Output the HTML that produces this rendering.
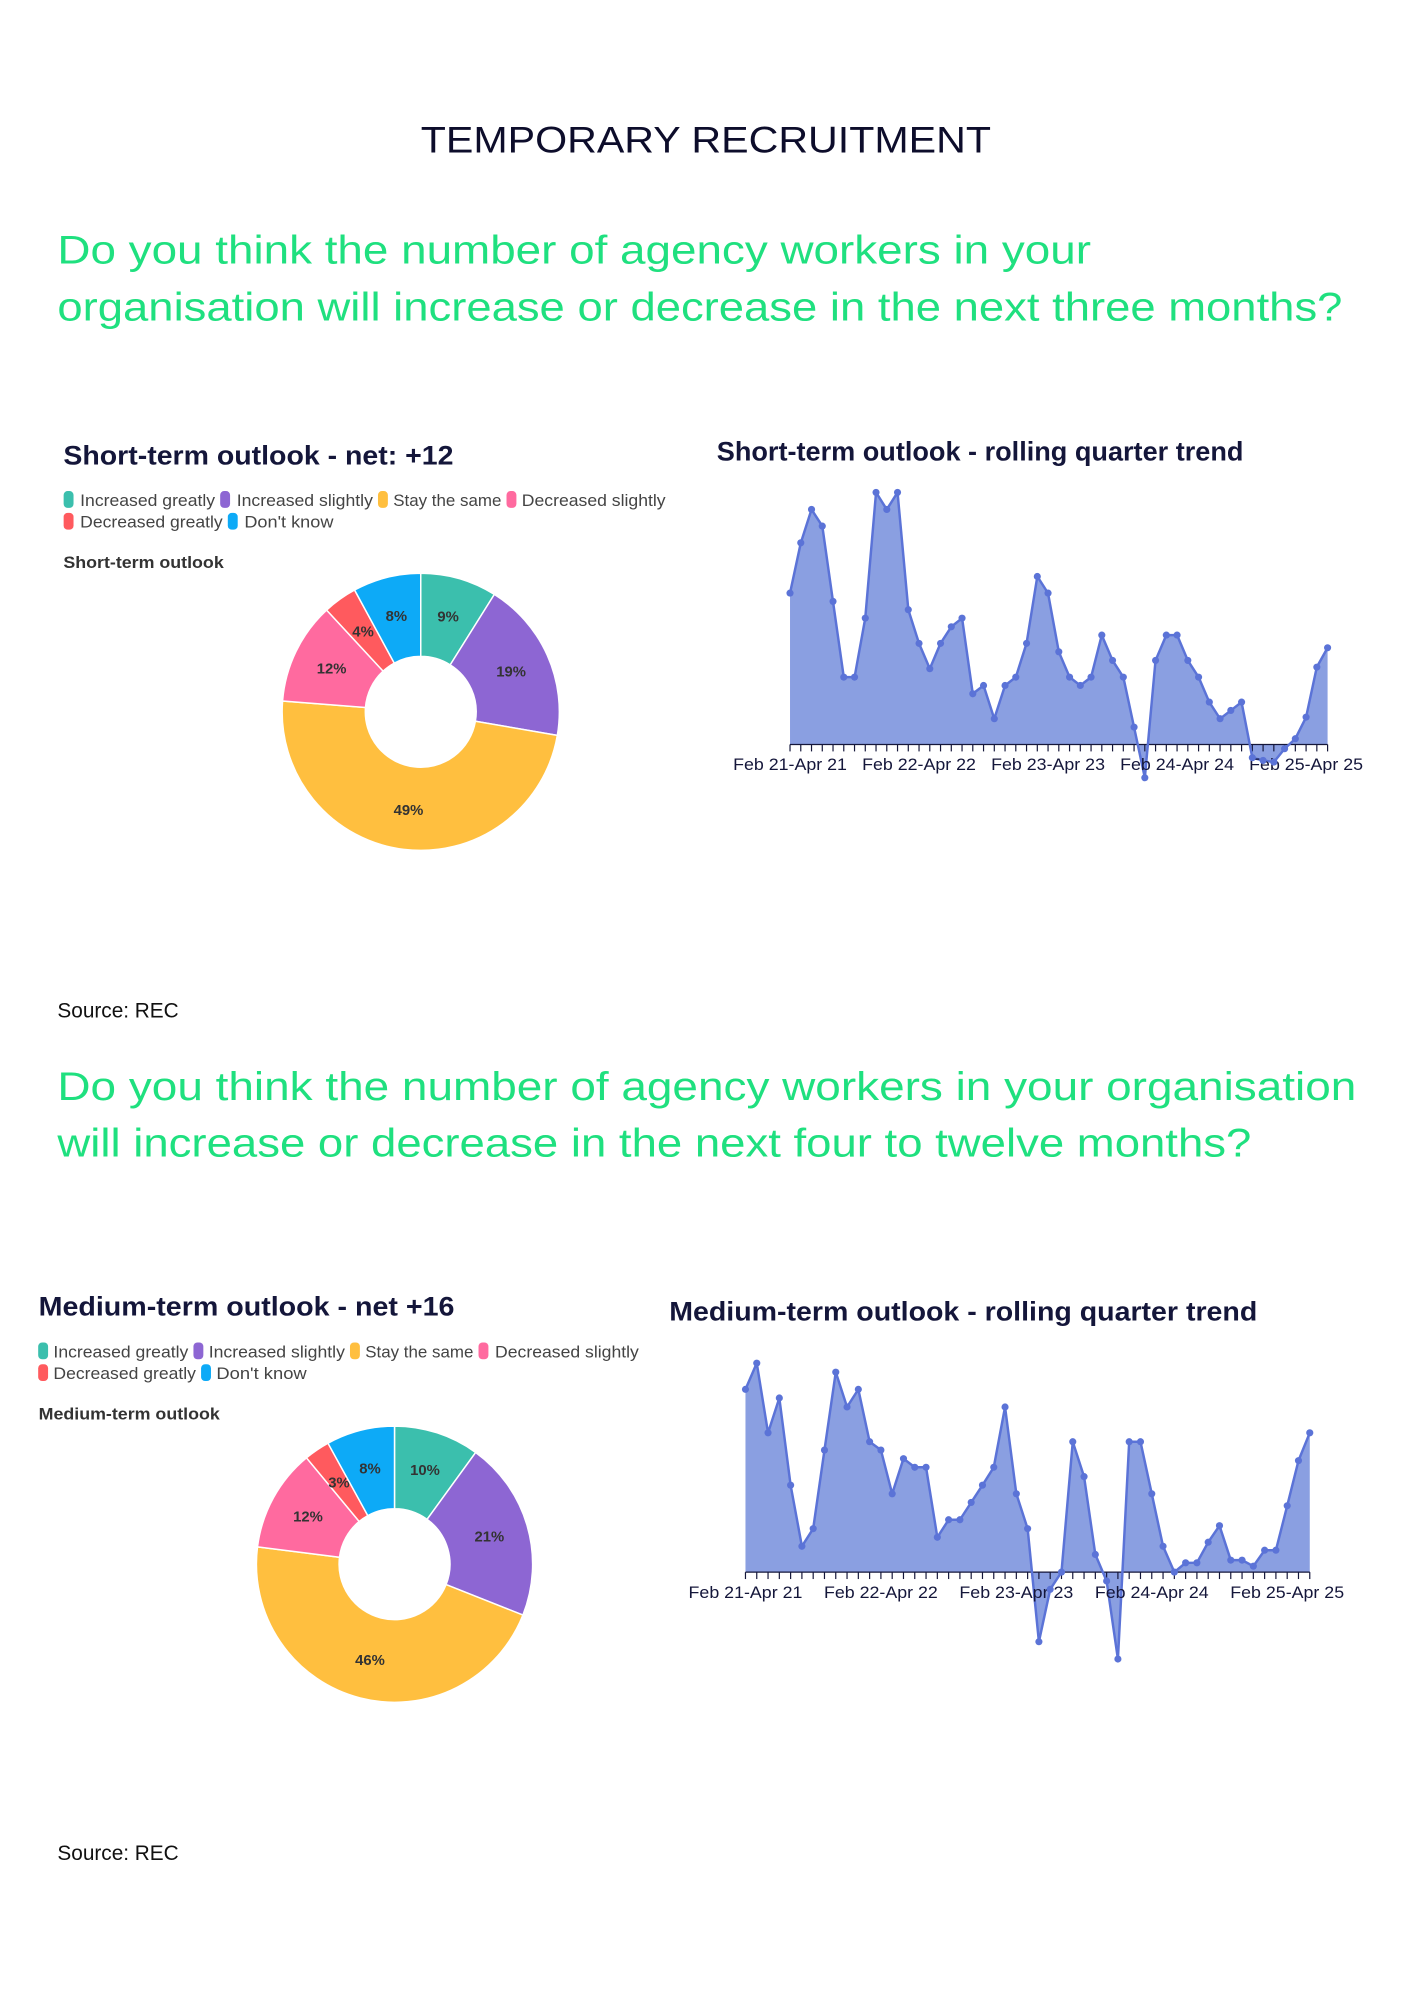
<!DOCTYPE html>
<html><head><meta charset="utf-8">
<style>
html,body{margin:0;padding:0;background:#fff;}
svg{display:block;}
.q{font-family:"Liberation Sans",sans-serif;fill:#1fe07f;font-size:40px;}
.h{font-family:"Liberation Sans",sans-serif;font-weight:bold;fill:#14163a;font-size:27px;}
.lg{font-family:"Liberation Sans",sans-serif;fill:#444;font-size:17px;}
.st{font-family:"Liberation Sans",sans-serif;font-weight:bold;fill:#333;font-size:17px;}
.pl{font-family:"Liberation Sans",sans-serif;font-weight:bold;fill:#333;font-size:15px;}
.ax{font-family:"Liberation Sans",sans-serif;fill:#14163a;font-size:17px;}
.src{font-family:"Liberation Sans",sans-serif;fill:#111;font-size:21px;}
</style></head><body>
<svg id="s" xmlns="http://www.w3.org/2000/svg" width="1414" height="2000" viewBox="0 0 1414 2000">
<rect width="1414" height="2000" fill="#fff"/>
<g transform="scale(0.99)">
<text x="713" y="154" text-anchor="middle" font-family="Liberation Sans,sans-serif" font-size="37" fill="#0d0d2b" textLength="576" lengthAdjust="spacingAndGlyphs">TEMPORARY RECRUITMENT</text>
<text class="q" x="58" y="266" textLength="1044" lengthAdjust="spacingAndGlyphs">Do you think the number of agency workers in your</text>
<text class="q" x="58" y="324" textLength="1298" lengthAdjust="spacingAndGlyphs">organisation will increase or decrease in the next three months?</text>

<text class="h" x="64" y="469" textLength="394" lengthAdjust="spacingAndGlyphs">Short-term outlook - net: +12</text>
<text class="h" x="724" y="465" textLength="532" lengthAdjust="spacingAndGlyphs">Short-term outlook - rolling quarter trend</text>
<g id="leg1"></g>
<text class="st" x="64" y="574" textLength="162" lengthAdjust="spacingAndGlyphs">Short-term outlook</text>
<g id="pie1"></g>
<g id="area1"></g>
<text class="src" x="58" y="1028">Source: REC</text>

<text class="q" x="58" y="1111" textLength="1312" lengthAdjust="spacingAndGlyphs">Do you think the number of agency workers in your organisation</text>
<text class="q" x="58" y="1168" textLength="1206" lengthAdjust="spacingAndGlyphs">will increase or decrease in the next four to twelve months?</text>

<text class="h" x="39" y="1329" textLength="420" lengthAdjust="spacingAndGlyphs">Medium-term outlook - net +16</text>
<text class="h" x="676" y="1334" textLength="594" lengthAdjust="spacingAndGlyphs">Medium-term outlook - rolling quarter trend</text>
<g id="leg2"></g>
<text class="st" x="39" y="1434" textLength="183" lengthAdjust="spacingAndGlyphs">Medium-term outlook</text>
<g id="pie2"></g>
<g id="area2"></g>
<text class="src" x="58" y="1879">Source: REC</text>
</g>
</svg>
<script>
var NS="http://www.w3.org/2000/svg";
function el(p,t,a,txt){var e=document.createElementNS(NS,t);for(var k in a)e.setAttribute(k,a[k]);if(txt!=null)e.textContent=txt;p.appendChild(e);return e;}
var C=["#3bbfad","#8d66d3","#ffbf3f","#ff6a9f","#ff5a5e","#0daaf7"];
var N=["Increased greatly","Increased slightly","Stay the same","Decreased slightly","Decreased greatly","Don't know"];
function legend(id,s,rows){var g=document.getElementById(id);
 rows.forEach(function(r){el(g,"rect",{x:r[0]*s,y:r[3]-9,width:10,height:17,rx:4,fill:C[r[4]]});
 el(g,"text",{"class":"lg",x:r[1]*s,y:r[3]+6,textLength:(r[2]-r[1])*s,lengthAdjust:"spacingAndGlyphs"},N[r[4]]);});}
var s=1.2855;
legend("leg1",s,[[50,63,169,505,0],[173,186,293,505,1],[297,309,394,505,2],[398,410,523,505,3],[50,63,175,527,4],[179,192,262,527,5]]);
legend("leg2",s,[[30,42,148,1365,0],[152,164,271,1365,1],[275,287,372,1365,2],[376,389,502,1365,3],[30,42,154,1387,4],[158,170,241,1387,5]]);
function pie(id,cx,cy,R,r,vals){var g=document.getElementById(id);var tot=vals.reduce(function(a,b){return a+b},0);var a0=0;
 vals.forEach(function(v,i){var a1=a0+v/tot*2*Math.PI;
  function P(rad,a){return [cx+rad*Math.sin(a),cy-rad*Math.cos(a)];}
  var p1=P(R,a0),p2=P(R,a1),p3=P(r,a1),p4=P(r,a0),lg=(a1-a0)>Math.PI?1:0;
  el(g,"path",{d:"M"+p1+"A"+R+","+R+" 0 "+lg+" 1 "+p2+"L"+p3+"A"+r+","+r+" 0 "+lg+" 0 "+p4+"Z",fill:C[i],stroke:"#fff","stroke-width":1.5});
  var m=(a0+a1)/2,lp=P((R+r)/2+2,m);
  el(g,"text",{"class":"pl",x:lp[0],y:lp[1]+5,"text-anchor":"middle"},v+"%");
  a0=a1;});}
pie("pie1",425,719,140,56,[9,19,49,12,4,8]);
pie("pie2",398.5,1580,139.5,56,[10,21,46,12,3,8]);
function area(id,x0,step,base,ys,ly){var g=document.getElementById(id);
 var pts=ys.map(function(y,i){return [x0+i*step,y];});
 var d="M"+x0+","+base+" "+pts.map(function(p){return "L"+p[0].toFixed(1)+","+p[1];}).join(" ")+" L"+(x0+(ys.length-1)*step).toFixed(1)+","+base+"Z";
 el(g,"path",{d:d,fill:"#8a9fe1"});
 el(g,"line",{x1:x0,y1:base,x2:x0+(ys.length-1)*step,y2:base,stroke:"#14163a","stroke-width":1.2});
 pts.forEach(function(p){el(g,"line",{x1:p[0],y1:base,x2:p[0],y2:base+7,stroke:"#14163a","stroke-width":1.2});});
 el(g,"polyline",{points:pts.map(function(p){return p[0].toFixed(1)+","+p[1];}).join(" "),fill:"none",stroke:"#5b73d7","stroke-width":2.5,"stroke-linejoin":"round"});
 var labs=["Feb 21-Apr 21","Feb 22-Apr 22","Feb 23-Apr 23","Feb 24-Apr 24","Feb 25-Apr 25"];
 labs.forEach(function(l,k){el(g,"text",{"class":"ax",x:x0+k*12*step,y:ly,"text-anchor":"middle",textLength:115,lengthAdjust:"spacingAndGlyphs"},l);});
 pts.forEach(function(p){el(g,"circle",{cx:p[0],cy:p[1],r:3.6,fill:"#5b73d7"});});}
area("area1",798,10.86,752,[599.1,548.3,514.6,531.4,607.5,684,684,624.4,497.4,514.6,497.4,615.9,649.9,675.5,649.9,633.1,624.4,700.8,692.4,726,692.4,684,649.9,582.3,599.1,658.4,684,692.4,684,641.5,667.1,684,734.5,785.6,667.1,641.5,641.5,667.1,684,709.2,726,717.6,709.2,765.4,768.1,769.8,756.3,746.2,724.4,673.9,654.3],778);
area("area2",753,11.4,1588,[1403.4,1376.9,1447.3,1412.1,1500.2,1561.9,1544.1,1464.7,1386,1421.2,1403.4,1456.3,1464.7,1508.9,1473.4,1482.1,1482.1,1552.8,1535.1,1535.1,1517.6,1500.2,1482.1,1421.2,1508.9,1544.1,1658.3,1605.4,1588,1456.3,1491.5,1570.2,1597,1675.8,1456.3,1456.3,1508.9,1561.9,1588,1578.6,1578.6,1557.8,1541.1,1575.9,1575.9,1582,1565.9,1565.9,1521,1475.4,1447.3],1614);
</script>
</body></html>
